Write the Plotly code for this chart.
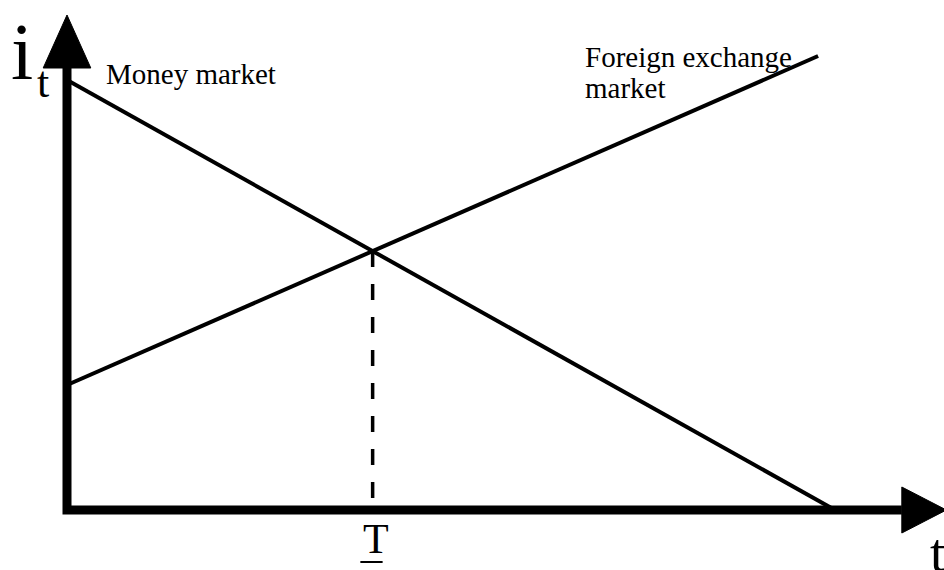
import plotly.graph_objects as go

# schematic: interest rate i_t against time t
t_money = [0, 10]
i_money = [8.6, 0]           # money market line
t_fx = [0, 9.78]
i_fx = [2.5, 9.08]           # foreign exchange market line

# axis extents (data units)
t_max = 10.87                # where horizontal arrow head starts
i_max = 8.84                 # where vertical arrow head starts
t_tip = 11.45
i_tip = 9.9

# intersection of the two lines -> T
m1 = (i_money[1] - i_money[0]) / (t_money[1] - t_money[0])
m2 = (i_fx[1] - i_fx[0]) / (t_fx[1] - t_fx[0])
T = (i_fx[0] - i_money[0]) / (m1 - m2)
i_T = i_money[0] + m1 * T

FONT = "Liberation Serif"
fig = go.Figure()

# axes
fig.add_trace(go.Scatter(x=[0, 0, t_max], y=[i_max, 0, 0], mode="lines",
                         line=dict(color="black", width=9), hoverinfo="skip"))
# arrow heads
fig.add_trace(go.Scatter(x=[-0.31, 0, 0.31, -0.31], y=[i_max, i_tip, i_max, i_max],
                         mode="lines", fill="toself", fillcolor="black",
                         line=dict(color="black", width=1), hoverinfo="skip"))
fig.add_trace(go.Scatter(x=[t_max, t_tip, t_max, t_max], y=[0.46, 0, -0.46, 0.46],
                         mode="lines", fill="toself", fillcolor="black",
                         line=dict(color="black", width=1), hoverinfo="skip"))

# market lines
fig.add_trace(go.Scatter(x=t_money, y=i_money, mode="lines",
                         line=dict(color="black", width=4), hoverinfo="skip"))
fig.add_trace(go.Scatter(x=t_fx, y=i_fx, mode="lines",
                         line=dict(color="black", width=4), hoverinfo="skip"))
# dashed drop line at T
fig.add_trace(go.Scatter(x=[T, T], y=[i_T, 0.1], mode="lines",
                         line=dict(color="black", width=3.5, dash="16px,17px"), hoverinfo="skip"))

# underline under T
fig.add_shape(type="line", x0=T - 0.16, x1=T + 0.13, y0=-1.04, y1=-1.04,
              line=dict(color="black", width=2))

def label(text, x, y, size, xanchor="center"):
    fig.add_annotation(text=text, x=x, y=y, showarrow=False, xanchor=xanchor,
                       yanchor="middle", align="left",
                       font=dict(family=FONT, size=size, color="black"))

label("i", -0.59, 9.16, 80)
label("t", -0.31, 8.55, 44)
label("t", 11.33, -0.85, 55)
label("T", T + 0.04, -0.58, 42)
label("Money market", 0.48, 8.72, 29, "left")
label("Foreign exchange", 6.72, 9.07, 29, "left")
label("market", 6.72, 8.44, 29, "left")

fig.update_layout(
    width=944, height=570,
    margin=dict(l=0, r=0, t=0, b=0),
    plot_bgcolor="white", paper_bgcolor="white",
    showlegend=False,
    xaxis=dict(range=[-67 / 76.8, 877 / 76.8], visible=False, fixedrange=True),
    yaxis=dict(range=[-1.2, 10.2], visible=False, fixedrange=True),
)

fig.write_html("out.html", config={"displayModeBar": False},
               post_script="document.body.style.margin='0';")
